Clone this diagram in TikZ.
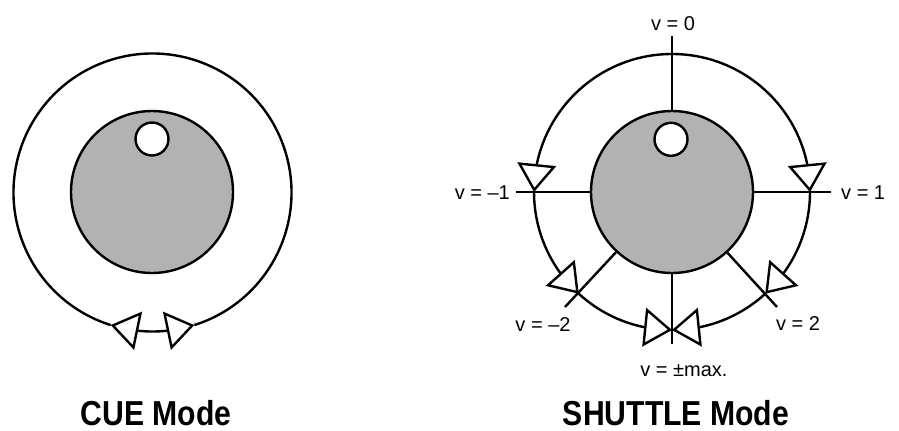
\documentclass[tikz,border=0pt]{standalone}
\usepackage{fontspec}
\setmainfont{Liberation Sans}
\newfontfamily\titlefont{Liberation Sans}[FakeStretch=0.87]
\usetikzlibrary{positioning,arrows.meta,bending}
\definecolor{knobgray}{gray}{0.7}

\begin{document}
\begin{tikzpicture}[x=0.75pt, y=0.75pt, line width=1.8pt,
    >={Triangle[open, length=21pt, width=29pt, flex]},
    knob/.style={circle, draw, fill=knobgray, inner sep=0pt, minimum size=121.5pt},
    hole/.style={circle, draw, fill=white, inner sep=0pt, minimum size=24.75pt},
    lbl/.style={inner sep=0pt, anchor=base, font=\fontsize{15}{18}\selectfont},
    title/.style={inner sep=0pt, anchor=base, font=\titlefont\bfseries\fontsize{26}{30}\selectfont}]
    \useasboundingbox (0,0) rectangle (899,-430);

    % CUE mode
    \coordinate (cueC) at (152.5,-192.5);
    \node[knob] (cueKnob) at (152,-192) {};
    \node[hole] (cueHole) at (152,-139) {};
    \draw ([shift={(287.5:139)}]cueC) arc (287.5:612.5:139);
    \draw[<->] ([shift={(252.5:139)}]cueC) arc (252.5:287.5:139);
    \node[title] (cue) at (156,-425) {CUE Mode};

    % SHUTTLE mode
    \coordinate (shC) at (672,-192);
    \node[knob] (shKnob) at (shC) {};
    \node[hole] (shHole) at (671,-139.3) {};
    \coordinate (e0) at (672,-36);
    \coordinate (e1) at (831,-192);
    \coordinate (em1) at (516,-192);
    \coordinate (e2) at (777,-307);
    \coordinate (em2) at (565,-307);
    \coordinate (emax) at (672,-344);
    \draw (shKnob) -- (e0);
    \draw (shKnob) -- (e1);
    \draw (shKnob) -- (em1);
    \draw (shKnob) -- (e2);
    \draw (shKnob) -- (em2);
    \draw (shKnob) -- (emax);
    \draw[->] ([shift={(90:138)}]shC) arc (90:180:138);
    \draw[->] ([shift={(180:138)}]shC) arc (180:227.5:138);
    \draw[->] ([shift={(227.5:138)}]shC) arc (227.5:270:138);
    \draw[->] ([shift={(90:138)}]shC) arc (90:0:138);
    \draw[->] ([shift={(0:138)}]shC) arc (0:-47.5:138);
    \draw[->] ([shift={(-47.5:138)}]shC) arc (-47.5:-90:138);

    \node[lbl] (v0) at (673,-30.7) {v = 0};
    \node[lbl, anchor=base west] (v1) at (840,-199.3) {v = 1};
    \node[lbl, anchor=base east] (vm1) at (511,-199.3) {v = –1};
    \node[lbl] (vm2) at (543,-331.7) {v = –2};
    \node[lbl] (v2) at (798,-330.5) {v = 2};
    \node[lbl] (vmax) at (684,-376.7) {v = ±max.};
    \node[title] (shuttle) at (676,-425) {SHUTTLE Mode};
\end{tikzpicture}
\end{document}
